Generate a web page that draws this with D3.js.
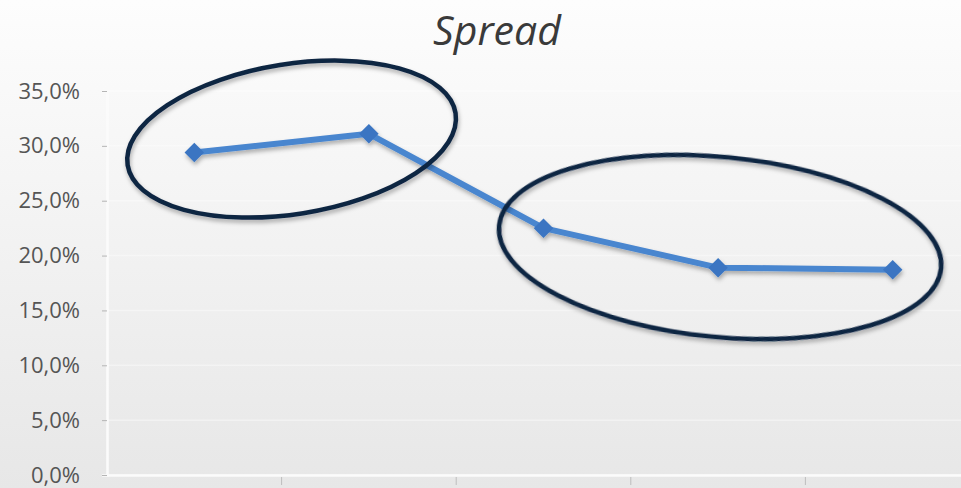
<!DOCTYPE html>
<html>
<head>
<meta charset="utf-8">
<script src="https://cdn.jsdelivr.net/npm/d3@7"></script>
<style>
  html, body { margin: 0; padding: 0; background: #fff; }
  svg { display: block; }
</style>
</head>
<body>
<script>
// Chart data
const categories = ["1", "2", "3", "4", "5"];
const spread = [0.294, 0.311, 0.225, 0.189, 0.187];
const yTicks = [0, 0.05, 0.1, 0.15, 0.2, 0.25, 0.3, 0.35];
const title = "Spread";

// Circled groups of categories (indices)
const highlightGroups = [[0, 1], [2, 3, 4]];

const width = 961;
const height = 488;
const margins = { left: 107, right: -19, top: 91, bottom: 13 };

// Ellipse geometry per group (offsets from data centre, radii, tilt)
const ellipseStyle = [
  { dx: 10, dy: -4, rx: 166, ry: 75, angle: -9 },
  { dx: 2, dy: -2, rx: 222, ry: 90, angle: 5.5 }
];

// Create x-scale (categorical)
const xScale = d3
  .scaleBand()
  .domain(categories)
  .range([margins.left, width - margins.right]);

// Create y-scale
const yScale = d3
  .scaleLinear()
  .domain([0, 0.35])
  .range([height - margins.bottom, margins.top]);

const fmt = (v) => d3.format(".1f")(v * 100).replace(".", ",") + "%";

const svg = d3
  .select("body")
  .append("svg")
  .attr("width", width)
  .attr("height", height);

const defs = svg.append("defs");
const grad = defs
  .append("linearGradient")
  .attr("id", "bg")
  .attr("x1", 0).attr("y1", 0)
  .attr("x2", 0).attr("y2", 1);
grad.append("stop").attr("offset", "0%").attr("stop-color", "#fdfdfd");
grad.append("stop").attr("offset", "100%").attr("stop-color", "#e7e7e7");

const shadow = defs.append("filter").attr("id", "shadow")
  .attr("x", "-20%").attr("y", "-20%").attr("width", "140%").attr("height", "160%");
shadow.append("feDropShadow")
  .attr("dx", 1).attr("dy", 3).attr("stdDeviation", 2)
  .attr("flood-color", "#000").attr("flood-opacity", 0.3);

// Background
svg.append("rect")
  .attr("width", width)
  .attr("height", height)
  .attr("fill", "url(#bg)");

// Gridlines
svg.append("g")
  .selectAll("line")
  .data(yTicks)
  .join("line")
  .attr("x1", margins.left)
  .attr("x2", width)
  .attr("y1", (d) => yScale(d))
  .attr("y2", (d) => yScale(d))
  .attr("stroke", "#ffffff")
  .attr("stroke-opacity", 0.4)
  .attr("stroke-width", 1.5);

// Y axis
const yAxis = d3.axisLeft(yScale).tickValues(yTicks).tickFormat(fmt).tickSize(5).tickPadding(22);
const yG = svg.append("g")
  .attr("transform", `translate(${margins.left}, 0)`)
  .call(yAxis);
yG.select(".domain").attr("stroke", "#fbfbfb").attr("stroke-width", 2.5);
yG.selectAll(".tick line").attr("stroke", "#b5b5b5").attr("stroke-width", 1);
yG.selectAll("text")
  .attr("font-family", "'Open Sans', sans-serif")
  .attr("font-size", "22px")
  .attr("fill", "#555555");

// X axis (labels are outside the picture)
const xAxis = d3.axisBottom(xScale).tickFormat("").tickSize(0);
const xG = svg.append("g")
  .attr("transform", `translate(0, ${yScale(0)})`)
  .call(xAxis);
xG.select(".domain").attr("stroke", "#fbfbfb").attr("stroke-width", 2.5);
xG.append("g")
  .selectAll("line")
  .data(categories)
  .join("line")
  .attr("x1", (d) => xScale(d) + xScale.bandwidth())
  .attr("x2", (d) => xScale(d) + xScale.bandwidth())
  .attr("y1", 2)
  .attr("y2", 10)
  .attr("stroke", "#bdbdbd")
  .attr("stroke-width", 1);

// Title
svg.append("text")
  .attr("x", 497)
  .attr("y", 45)
  .attr("text-anchor", "middle")
  .attr("font-family", "'Open Sans', sans-serif")
  .attr("font-style", "italic")
  .attr("font-size", "41px")
  .attr("fill", "#3a3a3a")
  .text(title);

const cx = (i) => xScale(categories[i]) + xScale.bandwidth() / 2;

// Spread line
const line = d3.line()
  .x((d, i) => cx(i))
  .y((d) => yScale(d));

const series = svg.append("g").attr("filter", "url(#shadow)");
series.append("path")
  .datum(spread)
  .attr("d", line)
  .attr("fill", "none")
  .attr("stroke", "#4a86cf")
  .attr("stroke-width", 6)
  .attr("stroke-linejoin", "round");

// Diamond markers
series.selectAll(".marker")
  .data(spread)
  .join("path")
  .attr("class", "marker")
  .attr("d", d3.symbol(d3.symbolSquare).size(190))
  .attr("transform", (d, i) => `translate(${cx(i)}, ${yScale(d)}) rotate(45)`)
  .attr("fill", "#3a75c2");

// Highlight ellipses
svg.append("g")
  .attr("filter", "url(#shadow)")
  .selectAll("ellipse")
  .data(highlightGroups)
  .join("ellipse")
  .each(function (grp, k) {
    const s = ellipseStyle[k];
    const xs = grp.map(cx);
    const ys = grp.map((i) => yScale(spread[i]));
    const mx = (d3.min(xs) + d3.max(xs)) / 2 + s.dx;
    const my = (d3.min(ys) + d3.max(ys)) / 2 + s.dy;
    d3.select(this)
      .attr("rx", s.rx)
      .attr("ry", s.ry)
      .attr("transform", `translate(${mx}, ${my}) rotate(${s.angle})`);
  })
  .attr("fill", "none")
  .attr("stroke", "#0f2543")
  .attr("stroke-width", 4.5);
</script>
</body>
</html>
